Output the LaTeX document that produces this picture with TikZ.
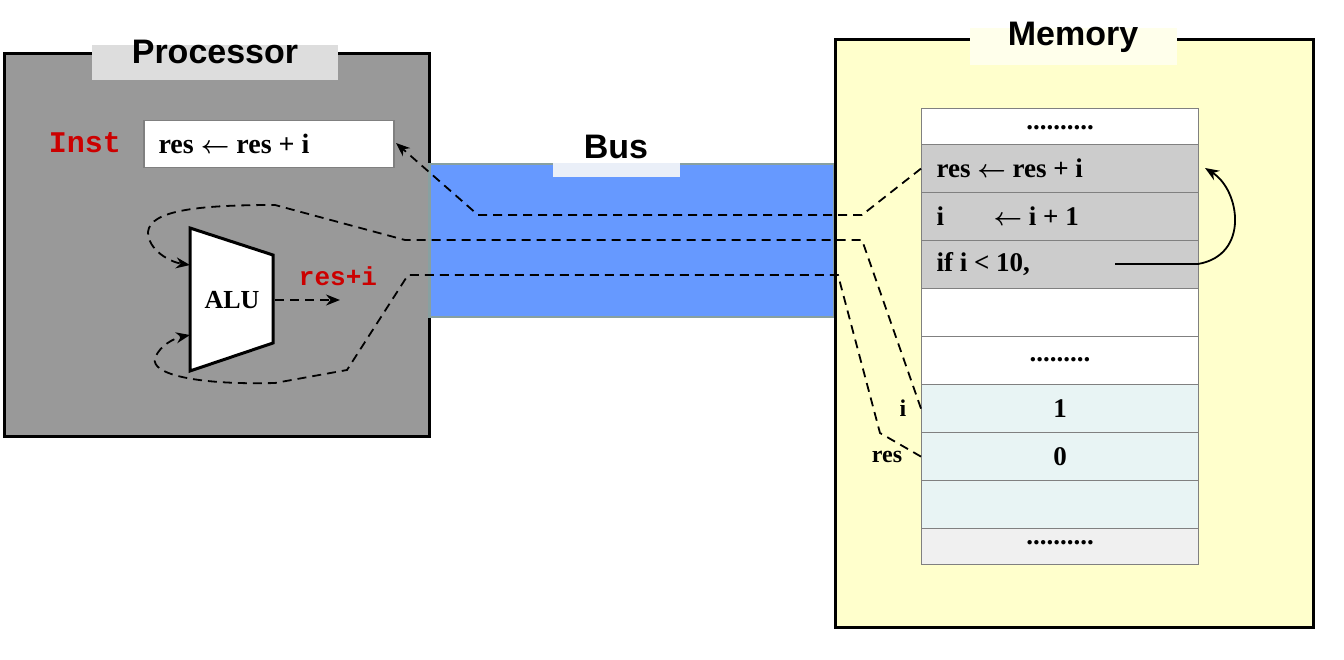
\documentclass[tikz,border=0pt]{standalone}
\usepackage{amsmath}
\usepackage{fontspec}
\setmainfont{Liberation Serif}
\newfontfamily\ssf{Liberation Sans}
\newfontfamily\mono{Liberation Mono}
\usetikzlibrary{arrows.meta}
\definecolor{pgray}{HTML}{999999}
\definecolor{tabgray}{HTML}{DDDDDD}
\definecolor{busblue}{HTML}{6699FF}
\definecolor{busedge}{HTML}{88A0A0}
\definecolor{memyel}{HTML}{FFFFCC}
\definecolor{cellgray}{HTML}{CCCCCC}
\definecolor{cellcyan}{HTML}{E8F4F4}
\definecolor{instred}{HTML}{CC0000}
\begin{document}
\begin{tikzpicture}[x=1pt,y=-1pt,
  cell/.style={draw=gray,line width=1.2pt,minimum width=277pt,anchor=north west,inner sep=0pt,font=\fontsize{27}{29}\selectfont\bfseries},
  dsh/.style={dashed,dash pattern=on 9pt off 6pt,line width=1.8pt},
  tip/.style={-{Stealth[length=14pt,width=11pt]}},
  title/.style={font=\ssf\fontsize{34}{36}\selectfont\bfseries}]
\useasboundingbox (0,0) rectangle (1344,660);
% Processor
\node[draw,line width=3pt,fill=pgray,minimum width=425pt,minimum height=383pt,anchor=north west,inner sep=0pt] (proc) at (3,52) {};
\node[fill=tabgray,minimum width=246pt,minimum height=35pt,anchor=north west,inner sep=0pt] (ptab) at (92,45) {};
\node[title] (ptitle) at (215,52) {Processor};
\node[draw=gray,line width=1.5pt,fill=white,minimum width=250pt,minimum height=47pt,anchor=north west,inner sep=0pt] (inst) at (143,120) {};
\node[anchor=west,font=\fontsize{28}{30}\selectfont\bfseries] (insttxt) at (155,144) {res $\boldsymbol{\leftarrow}$ res + i};
\node[font=\mono\fontsize{30}{32}\selectfont\bfseries,text=instred] (instlbl) at (85,143) {Inst};
\draw[line width=3pt,fill=white] (190,228) -- (273,255) -- (273,343) -- (190,371) -- cycle;
\node[font=\fontsize{26}{28}\selectfont\bfseries] (alu) at (232,300) {ALU};
\coordinate (aluout) at (275,300);
\coordinate (aluin1) at (190,265);
\coordinate (aluin2) at (190,335);
\coordinate (resi) at (340,300);
\node[font=\mono\fontsize{26}{28}\selectfont\bfseries,text=instred] (resilbl) at (338,276) {res+i};
\draw[dsh,tip] (aluout) -- (resi);
% Bus
\node[draw=busedge,line width=2.5pt,fill=busblue,minimum width=405pt,minimum height=153pt,anchor=north west,inner sep=0pt] (bus) at (428,163) {};
\node[fill=tabgray!70!busblue!30!white,minimum width=127pt,minimum height=14pt,anchor=north west,inner sep=0pt] (btab) at (553,163) {};
\node[title] (btitle) at (616,147) {Bus};
% Memory
\node[draw,line width=3pt,fill=memyel,minimum width=478pt,minimum height=588pt,anchor=north west,inner sep=0pt] (mem) at (834,38) {};
\node[fill=memyel!40!white,minimum width=207pt,minimum height=37pt,anchor=north west,inner sep=0pt] (mtab) at (970,28) {};
\node[title] (mtitle) at (1073,37) {Memory};
\node[cell,fill=white,minimum height=36pt] (c0) at (921,108) {};
\node[font=\fontsize{27}{29}\selectfont\bfseries] at (1060,128) {..........};
\node[cell,fill=cellgray,minimum height=48pt] (c1) at (921,144) {};
\node[anchor=west,font=\fontsize{27}{29}\selectfont\bfseries] at (933,168) {res $\boldsymbol{\leftarrow}$ res + i};
\node[cell,fill=cellgray,minimum height=48pt] (c2) at (921,192) {};
\node[anchor=west,font=\fontsize{27}{29}\selectfont\bfseries] at (933,216) {i};
\node[anchor=west,font=\fontsize{27}{29}\selectfont\bfseries] at (990,216) {$\boldsymbol{\leftarrow}$ i + 1};
\node[cell,fill=cellgray,minimum height=48pt] (c3) at (921,240) {};
\node[anchor=west,font=\fontsize{27}{29}\selectfont\bfseries] at (933,264) {if i < 10,};
\node[cell,fill=white,minimum height=48pt] (c4) at (921,288) {};
\node[cell,fill=white,minimum height=48pt] (c5) at (921,336) {};
\node[font=\fontsize{27}{29}\selectfont\bfseries] at (1060,360) {.........};
\node[cell,fill=cellcyan,minimum height=48pt] (c6) at (921,384) {1};
\node[cell,fill=cellcyan,minimum height=48pt] (c7) at (921,432) {0};
\node[cell,fill=cellcyan,minimum height=48pt] (c8) at (921,480) {};
\node[cell,fill=black!6,minimum height=36pt] (c9) at (921,528) {};
\node[font=\fontsize{27}{29}\selectfont\bfseries] at (1060,543) {..........};
\node[font=\fontsize{24}{26}\selectfont\bfseries] (ilbl) at (903,408) {i};
\node[font=\fontsize{24}{26}\selectfont\bfseries] (reslbl) at (887,457) {res};
\coordinate (loopst) at (1115,264);
\draw[line width=1.8pt,-{Stealth[length=14pt,width=11pt]}] (loopst) -- (1198,264) .. controls (1250,255) and (1240,190) .. (1205,168);
% dashed connectors
\draw[dsh,tip] (c1.west) -- (862,215) -- (478,215) -- (396,143);
\draw[dsh,tip] (c6.west) -- (862,240) -- (405,240) -- (275,205) .. controls (200,205) and (150,210) .. (148,232) .. controls (148,250) and (170,262) .. (aluin1);
\draw[dsh,tip] (c7.west) -- (880,433) -- (838,275) -- (408,275) -- (347,370) -- (275,383) .. controls (200,385) and (150,375) .. (155,358) .. controls (160,345) and (175,338) .. (aluin2);
\end{tikzpicture}
\end{document}
